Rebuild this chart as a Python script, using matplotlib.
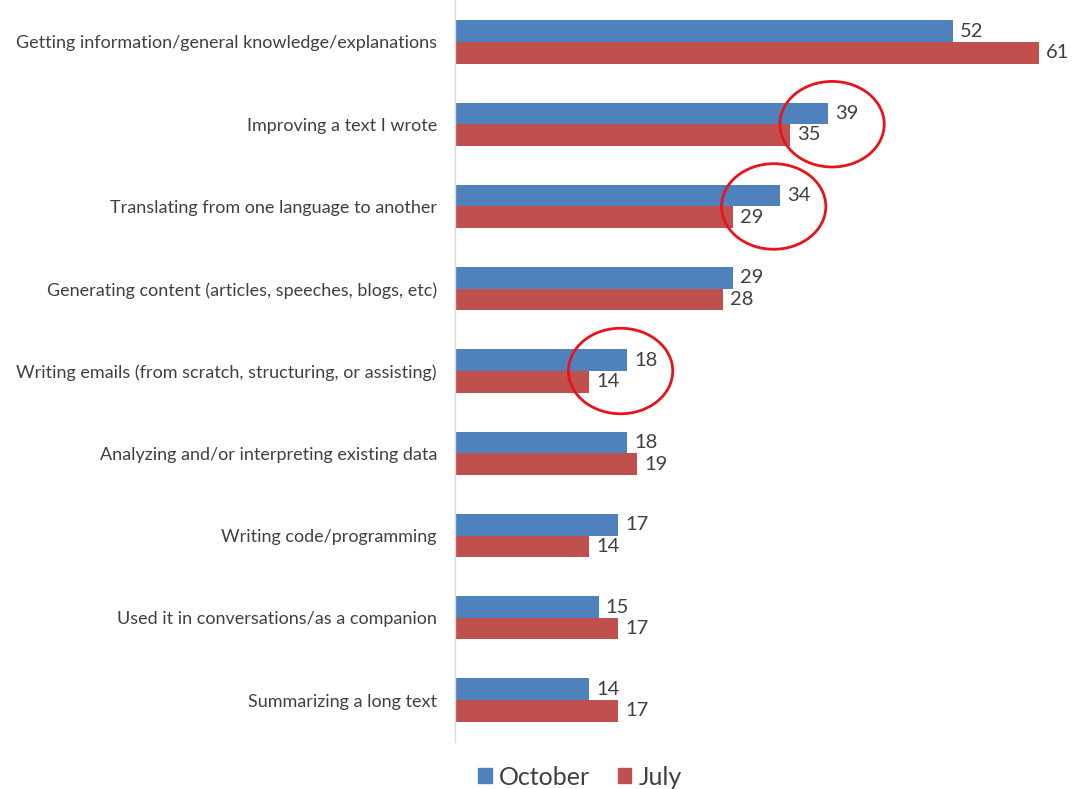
import matplotlib
matplotlib.use("Agg")
import matplotlib.pyplot as plt
from matplotlib.patches import Ellipse, Patch
import numpy as np

categories = [
    "Getting information/general knowledge/explanations",
    "Improving a text I wrote",
    "Translating from one language to another",
    "Generating content (articles, speeches, blogs, etc)",
    "Writing emails (from scratch, structuring, or assisting)",
    "Analyzing and/or interpreting existing data",
    "Writing code/programming",
    "Used it in conversations/as a companion",
    "Summarizing a long text",
]
october = [52, 39, 34, 29, 18, 18, 17, 15, 14]
july = [61, 35, 29, 28, 14, 19, 14, 17, 17]
highlighted = [1, 2, 4]
circle_x = [39.4, 33.3, 17.3]

BLUE = "#4F81BD"
RED = "#C0504D"
TXT = "#404040"

plt.rcParams['font.family'] = ['Lato', 'DejaVu Sans']

fig = plt.figure(figsize=(10.84, 7.89), dpi=100)
ax = fig.add_axes([455/1084, 1 - 742/789, 629/1084, 742/789])

y = np.arange(len(categories))
h = 0.262
ax.barh(y - h/2, october, height=h, color=BLUE, label="October")
ax.barh(y + h/2, july, height=h, color=RED, label="July")

for yi, v in zip(y, october):
    ax.text(v + 0.75, yi - h/2, str(v), va="center", ha="left", fontsize=14.5, color=TXT)
for yi, v in zip(y, july):
    ax.text(v + 0.75, yi + h/2, str(v), va="center", ha="left", fontsize=14.5, color=TXT)

for i, cx in zip(highlighted, circle_x):
    ax.add_patch(Ellipse((cx, i), width=10.9, height=1.04, fill=False,
                         edgecolor="#E8141B", linewidth=2, clip_on=False))

ax.set_xlim(0, 629/9.57)
ax.set_ylim(8.51, -0.51)
ax.set_yticks(y)
ax.set_yticklabels(categories, fontsize=13, color=TXT)
ax.tick_params(axis="y", length=0, pad=13)
ax.set_xticks([])
for s in ["top", "right", "bottom"]:
    ax.spines[s].set_visible(False)
ax.spines["left"].set_color("#D9D9D9")
ax.spines["left"].set_linewidth(1)

handles = [Patch(color=BLUE, label="October"), Patch(color=RED, label="July")]
leg = fig.legend(handles=handles, loc="lower center", bbox_to_anchor=(0.535, -0.028),
                 ncol=2, frameon=False, fontsize=18, handlelength=0.55, handleheight=0.55,
                 handletextpad=0.3, columnspacing=1.1)
for t in leg.get_texts():
    t.set_color(TXT)

fig.savefig("out.png", dpi=100)
